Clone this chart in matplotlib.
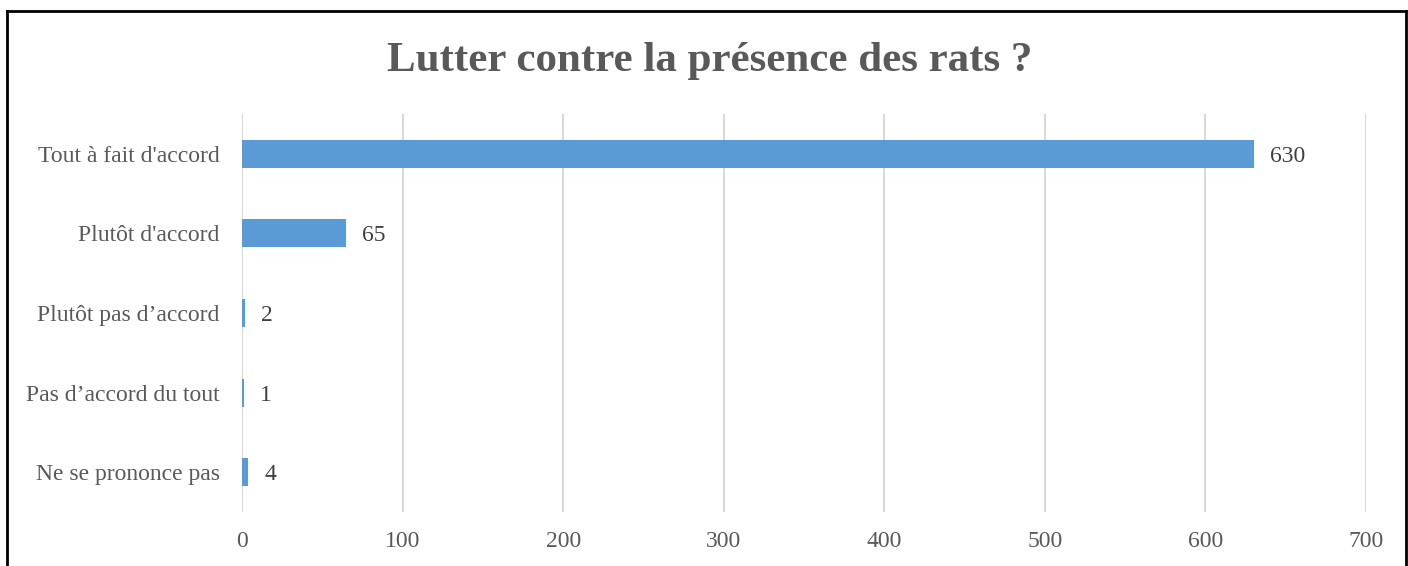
import matplotlib
matplotlib.use("Agg")
import matplotlib.pyplot as plt
from matplotlib.lines import Line2D

categories = ["Tout à fait d'accord", "Plutôt d'accord", "Plutôt pas d’accord",
              "Pas d’accord du tout", "Ne se prononce pas"]
values = [630, 65, 2, 1, 4]
xticks = [0, 100, 200, 300, 400, 500, 600, 700]
title = "Lutter contre la présence des rats ?"

plt.rcParams['font.family'] = ['Liberation Serif', 'DejaVu Serif']

fig = plt.figure(figsize=(14.08, 5.66), dpi=100)
ax = fig.add_axes([242/1408, 1-512/566, (1366-242)/1408, (512-114)/566])

pos = list(range(len(categories)))
ax.barh(pos, values, height=0.35, color="#5B9BD5", zorder=3)
for p, v in zip(pos, values):
    ax.text(v + 10, p, str(v), va="center_baseline", ha="left", fontsize=17,
            color="#404040")

ax.set_ylim(len(categories) - 0.5, -0.5)
ax.set_xlim(0, 700)
ax.set_yticks(pos)
ax.set_yticklabels(categories, fontsize=17, color="#595959", va="center_baseline")
ax.set_xticks(xticks)
ax.set_xticklabels([str(t) for t in xticks], fontsize=17, color="#595959")
ax.tick_params(axis="both", length=0)
ax.tick_params(axis="y", pad=16)
ax.tick_params(axis="x", pad=14)
ax.grid(axis="x", color="#d9d9d9", linewidth=1.5, zorder=0)
for s in ax.spines.values():
    s.set_visible(False)

fig.text(710/1408, 1-61/566, title, ha="center", va="center", fontsize=31,
         fontweight="bold", color="#595959")

# frame around the chart
fig.add_artist(Line2D([7/1408, 7/1408], [0, 1-11/566], color="black", linewidth=2))
fig.add_artist(Line2D([7/1408, 1406/1408], [1-11/566, 1-11/566], color="black", linewidth=2))
fig.add_artist(Line2D([1406/1408, 1406/1408], [0, 1-11/566], color="black", linewidth=2))

fig.savefig("out.png", dpi=100)
